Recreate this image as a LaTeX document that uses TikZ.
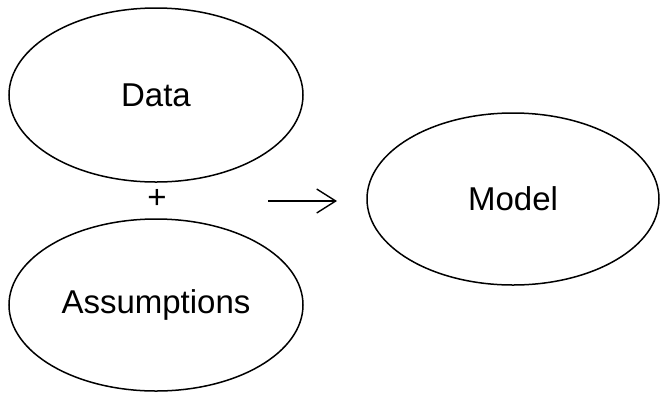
\documentclass[tikz,border=0pt]{standalone}
\usepackage{fontspec}
\setmainfont{Liberation Sans}
\usetikzlibrary{shapes.geometric,arrows.meta}
\tikzset{
  oval/.style={draw=black, line width=1.5pt, ellipse, inner sep=0pt},
  lbl/.style={font=\fontsize{33}{38}\selectfont},
}
\begin{document}
\begin{tikzpicture}[x=1pt,y=-1pt]
\useasboundingbox (0,0) rectangle (661,392);
\node[oval, minimum width=294pt, minimum height=174pt] (data) at (156,95) {};
\node[lbl] at (data.center) {Data};
\node[oval, minimum width=294pt, minimum height=172pt] (assum) at (156,305) {};
\node[lbl] at (assum.center) {Assumptions};
\node[oval, minimum width=292pt, minimum height=172pt] (model) at (513,199) {};
\node[lbl] at (model.center) {Model};
\node[lbl, inner sep=0pt] (plus) at (157,199) {+};
\coordinate (a1) at (268,201);
\coordinate (a2) at (337,201);
\draw[line width=1.4pt, -{Straight Barb[length=19pt, width=24pt, line width=1.4pt]}] (a1) -- (a2);
\end{tikzpicture}
\end{document}
